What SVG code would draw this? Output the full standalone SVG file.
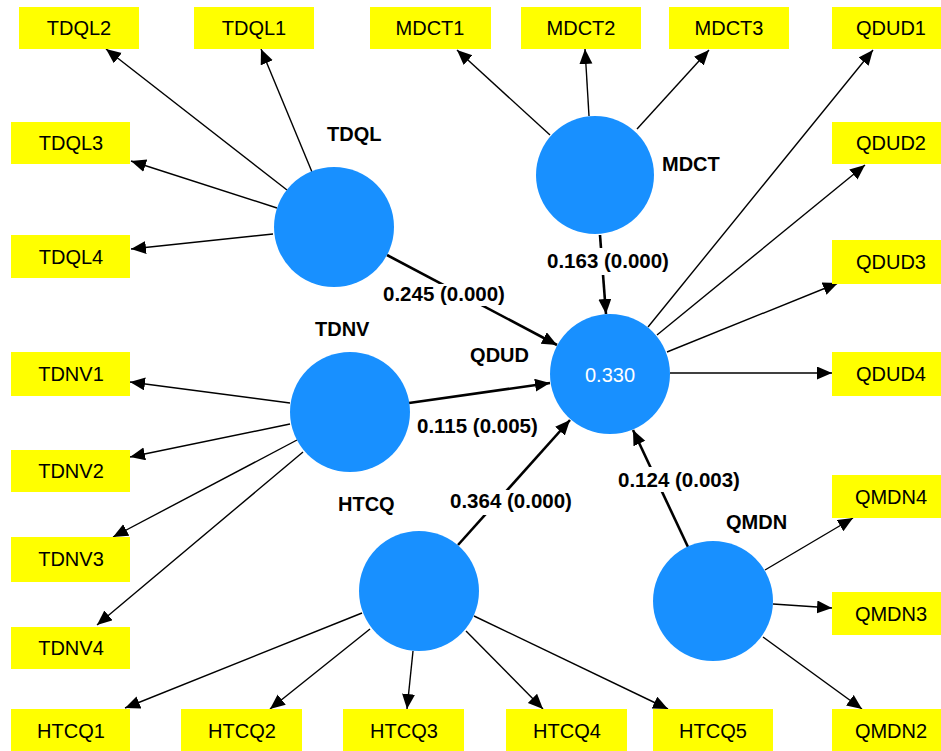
<svg xmlns="http://www.w3.org/2000/svg" width="941" height="751" viewBox="0 0 941 751">
<style>
.box{fill:#FFFF00}
.bt{font-family:"Liberation Sans",Arial,sans-serif;font-size:20px;fill:#000;text-anchor:middle}
.lv{fill:#1890FF}
.lt{font-family:"Liberation Sans",Arial,sans-serif;font-size:20px;font-weight:bold;fill:#000}
.ct{font-family:"Liberation Sans",Arial,sans-serif;font-size:20.5px;font-weight:bold;fill:#000}
.r2{font-family:"Liberation Sans",Arial,sans-serif;font-size:20px;fill:#fff;text-anchor:middle}
.ol{stroke:#000;stroke-width:1.4;fill:none;marker-end:url(#ah)}
.sl{stroke:#000;stroke-width:2.6;fill:none;marker-end:url(#ah)}
.lb{fill:#fff}
</style>
<defs>
<marker id="ah" markerUnits="userSpaceOnUse" markerWidth="16" markerHeight="14" refX="15" refY="6.5" orient="auto">
<path d="M0,0 L15,6.5 L0,13 z" fill="#000"/>
</marker>
</defs>
<rect width="941" height="751" fill="#fff"/>
<g id="connectors">
<line class="ol" x1="287" y1="190" x2="106" y2="49"/>
<line class="ol" x1="312" y1="172" x2="261" y2="49"/>
<line class="ol" x1="277" y1="208" x2="131" y2="161"/>
<line class="ol" x1="273" y1="234" x2="131" y2="249"/>
<line class="ol" x1="550" y1="135" x2="457" y2="50"/>
<line class="ol" x1="589" y1="116" x2="585" y2="49"/>
<line class="ol" x1="637" y1="129" x2="709" y2="50"/>
<line class="ol" x1="648" y1="327" x2="873" y2="50"/>
<line class="ol" x1="657" y1="335" x2="865" y2="165"/>
<line class="ol" x1="667" y1="352" x2="838" y2="283"/>
<line class="ol" x1="670" y1="373" x2="832" y2="373"/>
<line class="ol" x1="765" y1="570" x2="853" y2="518"/>
<line class="ol" x1="773" y1="604" x2="832" y2="608"/>
<line class="ol" x1="763" y1="637" x2="862" y2="709"/>
<line class="ol" x1="290" y1="403" x2="130" y2="382"/>
<line class="ol" x1="290" y1="424" x2="130" y2="457"/>
<line class="ol" x1="297" y1="440" x2="113" y2="537"/>
<line class="ol" x1="303" y1="452" x2="97" y2="625"/>
<line class="ol" x1="362" y1="613" x2="125" y2="708"/>
<line class="ol" x1="370" y1="629" x2="270" y2="709"/>
<line class="ol" x1="413" y1="651" x2="407" y2="709"/>
<line class="ol" x1="466" y1="631" x2="543" y2="709"/>
<line class="ol" x1="474" y1="616" x2="668" y2="709"/>
<line class="sl" x1="387" y1="255" x2="557" y2="345"/>
<line class="sl" x1="600" y1="235" x2="606" y2="314"/>
<line class="sl" x1="409" y1="403" x2="550" y2="383"/>
<line class="sl" x1="458" y1="545" x2="570" y2="420"/>
<line class="sl" x1="688" y1="547" x2="633" y2="430"/>
<rect class="lb" x="381" y="284" width="128" height="22"/>
<rect class="lb" x="545" y="248" width="126" height="27"/>
<rect class="lb" x="448" y="490" width="125" height="25"/>
<rect class="lb" x="616" y="467" width="125" height="25"/>
<text class="ct" x="383" y="301">0.245 (0.000)</text>
<text class="ct" x="547" y="268">0.163 (0.000)</text>
<text class="ct" x="417" y="433">0.115 (0.005)</text>
<text class="ct" x="450" y="508">0.364 (0.000)</text>
<text class="ct" x="618" y="487">0.124 (0.003)</text>
</g>
<g id="TDQL"><circle class="lv" cx="334" cy="227" r="60"/><text class="lt" x="327" y="141">TDQL</text></g>
<g id="MDCT"><circle class="lv" cx="595" cy="175" r="59"/><text class="lt" x="662" y="171">MDCT</text></g>
<g id="TDNV"><circle class="lv" cx="350" cy="412" r="60"/><text class="lt" x="315" y="336">TDNV</text></g>
<g id="HTCQ"><circle class="lv" cx="419" cy="591" r="60"/><text class="lt" x="338" y="511">HTCQ</text></g>
<g id="QDUD"><circle class="lv" cx="610" cy="374" r="60"/><text class="lt" x="529" y="362" text-anchor="end">QDUD</text><text class="r2" x="610" y="382">0.330</text></g>
<g id="QMDN"><circle class="lv" cx="713" cy="601" r="60"/><text class="lt" x="726" y="529">QMDN</text></g>
<g id="TDQL2"><rect class="box" x="19" y="7" width="120" height="42"/><text class="bt" x="79" y="35">TDQL2</text></g>
<g id="TDQL1"><rect class="box" x="194" y="7" width="120" height="42"/><text class="bt" x="254" y="35">TDQL1</text></g>
<g id="MDCT1"><rect class="box" x="370" y="7" width="121" height="42"/><text class="bt" x="430" y="35">MDCT1</text></g>
<g id="MDCT2"><rect class="box" x="521" y="7" width="120" height="42"/><text class="bt" x="581" y="35">MDCT2</text></g>
<g id="MDCT3"><rect class="box" x="669" y="7" width="120" height="42"/><text class="bt" x="729" y="35">MDCT3</text></g>
<g id="QDUD1"><rect class="box" x="832" y="7" width="120" height="42"/><text class="bt" x="891" y="35">QDUD1</text></g>
<g id="QDUD2"><rect class="box" x="832" y="122" width="120" height="42"/><text class="bt" x="891" y="150">QDUD2</text></g>
<g id="QDUD3"><rect class="box" x="832" y="240" width="120" height="44"/><text class="bt" x="891" y="269">QDUD3</text></g>
<g id="QDUD4"><rect class="box" x="832" y="352" width="120" height="44"/><text class="bt" x="891" y="381">QDUD4</text></g>
<g id="QMDN4"><rect class="box" x="832" y="475" width="120" height="43"/><text class="bt" x="891" y="504">QMDN4</text></g>
<g id="QMDN3"><rect class="box" x="832" y="592" width="120" height="43"/><text class="bt" x="891" y="621">QMDN3</text></g>
<g id="QMDN2"><rect class="box" x="832" y="709" width="120" height="44"/><text class="bt" x="891" y="738">QMDN2</text></g>
<g id="TDQL3"><rect class="box" x="11" y="122" width="119" height="42"/><text class="bt" x="71" y="150">TDQL3</text></g>
<g id="TDQL4"><rect class="box" x="11" y="235" width="119" height="43"/><text class="bt" x="71" y="264">TDQL4</text></g>
<g id="TDNV1"><rect class="box" x="11" y="352" width="119" height="44"/><text class="bt" x="71" y="381">TDNV1</text></g>
<g id="TDNV2"><rect class="box" x="11" y="450" width="119" height="42"/><text class="bt" x="71" y="478">TDNV2</text></g>
<g id="TDNV3"><rect class="box" x="11" y="537" width="119" height="45"/><text class="bt" x="71" y="566">TDNV3</text></g>
<g id="TDNV4"><rect class="box" x="11" y="627" width="119" height="42"/><text class="bt" x="71" y="655">TDNV4</text></g>
<g id="HTCQ1"><rect class="box" x="11" y="709" width="119" height="44"/><text class="bt" x="71" y="738">HTCQ1</text></g>
<g id="HTCQ2"><rect class="box" x="181" y="709" width="121" height="44"/><text class="bt" x="242" y="738">HTCQ2</text></g>
<g id="HTCQ3"><rect class="box" x="343" y="709" width="121" height="44"/><text class="bt" x="404" y="738">HTCQ3</text></g>
<g id="HTCQ4"><rect class="box" x="506" y="709" width="121" height="44"/><text class="bt" x="567" y="738">HTCQ4</text></g>
<g id="HTCQ5"><rect class="box" x="653" y="709" width="120" height="44"/><text class="bt" x="713" y="738">HTCQ5</text></g>
</svg>
